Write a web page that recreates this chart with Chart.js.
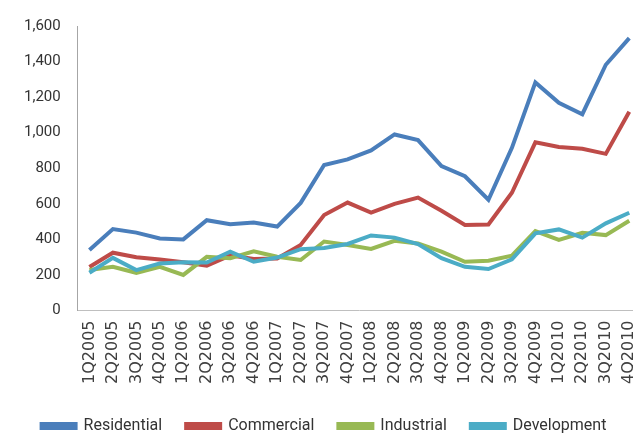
<!DOCTYPE html>
<html>
<head>
<meta charset="utf-8">
<script src="https://cdn.jsdelivr.net/npm/chart.js@4/dist/chart.umd.min.js"></script>
<style>
html,body{margin:0;padding:0;background:#fff;overflow:hidden;}
#wrap{width:645px;height:438px;position:relative;}
</style>
</head>
<body>
<div id="wrap"><canvas id="c"></canvas></div>
<script>
const categories = ["1Q2005","2Q2005","3Q2005","4Q2005","1Q2006","2Q2006","3Q2006","4Q2006","1Q2007","2Q2007","3Q2007","4Q2007","1Q2008","2Q2008","3Q2008","4Q2008","1Q2009","2Q2009","3Q2009","4Q2009","1Q2010","2Q2010","3Q2010","4Q2010"];
const residential = [340, 458, 438, 405, 400, 508, 485, 495, 472, 605, 818, 850, 900, 990, 958, 812, 755, 623, 915, 1283, 1168, 1104, 1382, 1532];
const commercial  = [245, 325, 300, 287, 271, 252, 310, 290, 293, 368, 537, 607, 550, 600, 635, 561, 481, 484, 662, 946, 920, 910, 881, 1118];
const industrial  = [228, 246, 212, 246, 200, 302, 294, 333, 302, 284, 388, 368, 346, 392, 377, 331, 274, 280, 308, 446, 397, 437, 424, 505];
const development = [212, 296, 227, 265, 272, 270, 331, 274, 298, 345, 352, 374, 422, 410, 374, 294, 246, 233, 288, 434, 456, 410, 490, 550];
const seriesNames = ["Residential","Commercial","Industrial","Development"];
const seriesColors = ["#4A7EBB","#BE4B48","#98B954","#4BACC6"];
const yTicks = [0,200,400,600,800,1000,1200,1400,1600];

const values = [residential, commercial, industrial, development];
const datasets = values.map((v,i)=>({
  label: seriesNames[i],
  data: v,
  borderColor: seriesColors[i],
  backgroundColor: seriesColors[i],
  borderWidth: 4,
  pointRadius: 0,
  tension: 0,
  fill: false,
  order: 4 - i
}));

new Chart(document.getElementById('c'), {
  type: 'line',
  data: { labels: categories, datasets },
  options: {
    responsive: true,
    maintainAspectRatio: false,
    animation: false,
    layout: { padding: { left: 7, right: 4, top: 16, bottom: -6 } },
    plugins: {
      tooltip: { enabled: false },
      legend: {
        position: 'bottom',
        labels: {
          boxWidth: 34,
          boxHeight: 4,
          padding: 24,
          color: '#333333',
          font: { family: "Roboto, sans-serif", size: 16 },
          sort: (a,b)=>a.datasetIndex-b.datasetIndex
        }
      }
    },
    scales: {
      x: {
        offset: true,
        afterFit: (s)=>{ s.paddingLeft = 0; s.paddingRight = 0; },
        grid: { display: false, drawTicks: false },
        border: { display: true, color: '#BFBFBF', width: 1 },
        ticks: {
          minRotation: 90, maxRotation: 90, autoSkip: false,
          padding: 10,
          color: '#404040',
          font: { family: "'DejaVu Sans', Verdana, sans-serif", size: 16 }
        }
      },
      y: {
        min: 0, max: 1600,
        afterBuildTicks: (s)=>{ s.ticks = yTicks.map(v=>({value:v})); },
        grid: { display: false, drawTicks: false },
        border: { display: true, color: '#A6A6A6', width: 1 },
        ticks: {
          padding: 17,
          color: '#333333',
          font: { family: "Roboto, sans-serif", size: 15 },
          callback: (v)=>v.toLocaleString('en-US')
        }
      }
    }
  }
});
</script>
</body>
</html>
